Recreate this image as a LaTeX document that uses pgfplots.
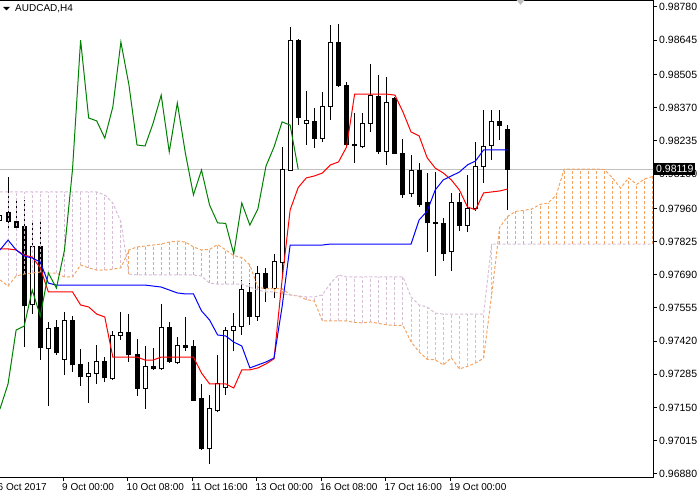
\documentclass[border=0pt]{standalone}
\usepackage{pgfplots}
\pgfplotsset{compat=1.18}
\usepackage{pgfplotstable}
\usepackage{fontspec}
\setmainfont{Liberation Sans}
\definecolor{spanA}{RGB}{244,164,96}
\definecolor{spanB}{RGB}{216,191,216}
\definecolor{pline}{RGB}{192,192,192}
\definecolor{chik}{RGB}{0,128,0}
\pgfplotsset{segs/.style={draw=none, mark=none}}
\begin{document}
\pgfplotstableread{
j O H L C
0 0.97909 0.97941 0.97901 0.97933
1 0.97945 0.98088 0.97880 0.97905
2 0.97905 0.97994 0.97876 0.97884
3 0.97888 0.97994 0.97396 0.97563
4 0.97567 0.97913 0.97530 0.97803
5 0.97803 0.97913 0.97343 0.97392
6 0.97388 0.97498 0.97156 0.97473
7 0.97477 0.97506 0.97364 0.97372
8 0.97347 0.97539 0.97282 0.97502
9 0.97502 0.97522 0.97294 0.97323
10 0.97323 0.97388 0.97237 0.97274
11 0.97274 0.97335 0.97168 0.97290
12 0.97290 0.97404 0.97246 0.97339
13 0.97339 0.97355 0.97254 0.97270
14 0.97266 0.97461 0.97262 0.97441
15 0.97441 0.97539 0.97425 0.97457
16 0.97457 0.97530 0.97335 0.97364
17 0.97364 0.97429 0.97197 0.97229
18 0.97229 0.97400 0.97144 0.97315
19 0.97315 0.97392 0.97303 0.97307
20 0.97307 0.97571 0.97303 0.97477
21 0.97477 0.97498 0.97331 0.97335
22 0.97331 0.97437 0.97327 0.97404
23 0.97404 0.97518 0.97380 0.97396
24 0.97400 0.97425 0.97176 0.97180
25 0.97185 0.97246 0.96977 0.96981
26 0.96981 0.97201 0.96920 0.97144
27 0.97136 0.97364 0.97130 0.97246
28 0.97233 0.97477 0.97201 0.97465
29 0.97465 0.97534 0.97380 0.97481
30 0.97481 0.97669 0.97445 0.97628
31 0.97616 0.97656 0.97486 0.97522
32 0.97522 0.97726 0.97502 0.97697
33 0.97697 0.97718 0.97579 0.97636
34 0.97636 0.97775 0.97595 0.97742
35 0.97738 0.98210 0.97689 0.98120
36 0.98116 0.98698 0.98112 0.98645
37 0.98645 0.98650 0.98299 0.98328
38 0.98307 0.98438 0.98218 0.98316
39 0.98312 0.98368 0.98206 0.98246
40 0.98246 0.98434 0.98230 0.98373
41 0.98373 0.98706 0.98320 0.98637
42 0.98637 0.98710 0.98455 0.98462
43 0.98462 0.98474 0.98210 0.98218
44 0.98218 0.98348 0.98145 0.98214
45 0.98210 0.98348 0.98206 0.98307
46 0.98307 0.98548 0.98271 0.98421
47 0.98417 0.98503 0.98181 0.98190
48 0.98190 0.98495 0.98137 0.98389
49 0.98409 0.98413 0.98181 0.98185
50 0.98185 0.98242 0.98002 0.98015
51 0.98019 0.98177 0.98006 0.98116
52 0.98116 0.98145 0.97966 0.97974
53 0.97982 0.98104 0.97783 0.97901
54 0.97903 0.98108 0.97685 0.97899
55 0.97899 0.97921 0.97746 0.97775
56 0.97783 0.98023 0.97705 0.97982
57 0.97986 0.98023 0.97868 0.97892
58 0.97892 0.98096 0.97864 0.97958
59 0.97958 0.98230 0.97949 0.98132
60 0.98129 0.98360 0.98063 0.98210
61 0.98214 0.98360 0.98157 0.98312
62 0.98312 0.98360 0.98238 0.98299
63 0.98283 0.98299 0.97954 0.98119
}\candles
\pgfplotstableread{
j T K
0 0.97795 0.97791
1 0.97795 0.97831
2 0.97791 0.97791
3 0.97770 0.97766
4 0.97762 0.97758
5 0.97718 0.97742
6 0.97620 0.97656
7 0.97620 0.97648
8 0.97620 0.97648
9 0.97620 0.97648
10 0.97567 0.97648
11 0.97559 0.97648
12 0.97530 0.97648
13 0.97518 0.97648
14 0.97355 0.97648
15 0.97355 0.97648
16 0.97355 0.97648
17 0.97355 0.97648
18 0.97343 0.97648
19 0.97343 0.97644
20 0.97355 0.97640
21 0.97355 0.97628
22 0.97355 0.97616
23 0.97355 0.97612
24 0.97355 0.97612
25 0.97290 0.97543
26 0.97246 0.97506
27 0.97246 0.97445
28 0.97246 0.97441
29 0.97229 0.97416
30 0.97303 0.97400
31 0.97303 0.97311
32 0.97311 0.97323
33 0.97327 0.97335
34 0.97348 0.97351
35 0.97670 0.97560
36 0.97954 0.97811
37 0.98045 0.97811
38 0.98084 0.97811
39 0.98092 0.97811
40 0.98104 0.97811
41 0.98137 0.97815
42 0.98149 0.97815
43 0.98210 0.97815
44 0.98425 0.97815
45 0.98425 0.97815
46 0.98425 0.97815
47 0.98425 0.97815
48 0.98425 0.97815
49 0.98421 0.97815
50 0.98352 0.97815
51 0.98271 0.97815
52 0.98255 0.97913
53 0.98166 0.97949
54 0.98124 0.98035
55 0.98104 0.98076
56 0.98076 0.98092
57 0.98035 0.98108
58 0.97966 0.98137
59 0.97954 0.98153
60 0.98023 0.98198
61 0.98027 0.98198
62 0.98031 0.98198
63 0.98039 0.98198
}\tenkij
\pgfplotstableread{
j CH
0 0.97144
1 0.97246
2 0.97465
3 0.97481
4 0.97628
5 0.97522
6 0.97697
7 0.97636
8 0.97790
9 0.98120
10 0.98645
11 0.98328
12 0.98316
13 0.98246
14 0.98373
15 0.98637
16 0.98462
17 0.98218
18 0.98214
19 0.98307
20 0.98421
21 0.98190
22 0.98389
23 0.98185
24 0.98015
25 0.98116
26 0.97974
27 0.97901
28 0.97899
29 0.97775
30 0.97982
31 0.97892
32 0.97958
33 0.98132
34 0.98210
35 0.98312
36 0.98299
37 0.98119
}\chikou
\pgfplotstableread{
j A B
0 0.97669 0.98027
1 0.97644 0.98027
2 0.97685 0.98027
3 0.97693 0.98027
4 0.97697 0.98027
5 0.97701 0.98027
6 0.97697 0.98027
7 0.97697 0.98027
8 0.97681 0.98027
9 0.97681 0.98027
10 0.97730 0.98027
11 0.97718 0.98027
12 0.97709 0.98027
13 0.97709 0.98015
14 0.97713 0.97982
15 0.97718 0.97905
16 0.97791 0.97693
17 0.97803 0.97689
18 0.97807 0.97689
19 0.97811 0.97689
20 0.97815 0.97689
21 0.97823 0.97689
22 0.97827 0.97689
23 0.97823 0.97689
24 0.97803 0.97689
25 0.97791 0.97685
26 0.97793 0.97656
27 0.97813 0.97652
28 0.97791 0.97652
29 0.97768 0.97652
30 0.97760 0.97652
31 0.97730 0.97640
32 0.97638 0.97628
33 0.97634 0.97620
34 0.97634 0.97620
35 0.97634 0.97612
36 0.97608 0.97608
37 0.97604 0.97604
38 0.97589 0.97600
39 0.97583 0.97600
40 0.97502 0.97608
41 0.97502 0.97656
42 0.97502 0.97689
43 0.97502 0.97681
44 0.97496 0.97681
45 0.97494 0.97681
46 0.97498 0.97681
47 0.97492 0.97681
48 0.97486 0.97681
49 0.97484 0.97681
50 0.97484 0.97681
51 0.97417 0.97600
52 0.97376 0.97567
53 0.97346 0.97559
54 0.97344 0.97534
55 0.97323 0.97530
56 0.97352 0.97530
57 0.97307 0.97530
58 0.97317 0.97530
59 0.97331 0.97530
60 0.97350 0.97530
61 0.97609 0.97815
62 0.97883 0.97815
63 0.97928 0.97815
64 0.97948 0.97815
65 0.97952 0.97815
66 0.97958 0.97815
67 0.97976 0.97815
68 0.97982 0.97815
69 0.98013 0.97815
70 0.98120 0.97815
71 0.98120 0.97815
72 0.98120 0.97815
73 0.98120 0.97815
74 0.98120 0.97815
75 0.98118 0.97815
76 0.98084 0.97815
77 0.98043 0.97815
78 0.98084 0.97815
79 0.98058 0.97815
80 0.98080 0.97815
81 0.98090 0.97815
82 0.98091 0.97815
}\cloud
\begin{tikzpicture}
\useasboundingbox (0,0) rectangle (700pt,496pt);
\begin{axis}[
  at={(-1pt,495.5pt)}, anchor=north west,
  scale only axis, width=654pt, height=476.5pt,
  xmin=-0.124, xmax=81.02, ymin=0.96867, ymax=0.98806,
  axis line style={black, line width=1pt},
  tick align=outside, major tick length=4pt,
  tick style={black, line width=1pt},
  xtick pos=lower, ytick pos=upper, yticklabel pos=upper,
  xtick={-0.12,7.88,15.88,23.88,31.88,39.88,47.88,55.88},
  xticklabels={6 Oct 2017,9 Oct 00:00,10 Oct 08:00,11 Oct 16:00,13 Oct 00:00,16 Oct 08:00,17 Oct 16:00,19 Oct 00:00},
  ytick={0.96880,0.97015,0.97150,0.97285,0.97420,0.97555,0.97690,0.97825,0.97960,0.98100,0.98235,0.98370,0.98505,0.98645,0.98780},
  yticklabels={0.96880,0.97015,0.97150,0.97285,0.97420,0.97555,0.97690,0.97825,0.97960,0.98100,0.98235,0.98370,0.98505,0.98645,0.98780},
  xticklabel style={anchor=north west, inner sep=0pt, font=\fontsize{10}{12}\selectfont, xshift=-1.5pt, yshift=-2pt},
  yticklabel style={anchor=west, inner sep=0pt, font=\fontsize{10.5}{12}\selectfont, xshift=2pt},
]
% price line
\addplot[pline, line width=1pt] coordinates {(-1,0.98119) (82,0.98119)};
% wicks
\addplot[segs, error bars/.cd, y dir=plus, y explicit, error mark=none,
  error bar style={draw=black, line width=1pt, solid}]
  table[x=j, y=L, y error expr=\thisrow{H}-\thisrow{L}] {\candles};
% body outline / black body
\addplot[segs, error bars/.cd, y dir=plus, y explicit, error mark=none,
  error bar style={draw=black, line width=5pt, solid}]
  table[x=j, y expr={min(\thisrow{O},\thisrow{C})-0.0000203}, y error expr={abs(\thisrow{C}-\thisrow{O})+0.0000406}] {\candles};
% hollow interior
\addplot[segs, error bars/.cd, y dir=plus, y explicit, error mark=none,
  error bar style={draw=white, line width=3pt, solid}]
  table[x=j, y expr={\thisrow{O}+0.0000203}, y error expr={max(\thisrow{C}-\thisrow{O}-0.0000406,0)}] {\candles};
% cloud hatch
\addplot[segs, error bars/.cd, y dir=plus, y explicit, error mark=none,
  error bar style={draw=spanA, line width=1pt, dash pattern=on 3pt off 2pt}]
  table[x=j, y=B, y error expr={max(\thisrow{A}-\thisrow{B},0)}] {\cloud};
\addplot[segs, error bars/.cd, y dir=plus, y explicit, error mark=none,
  error bar style={draw=spanB, line width=1pt, dash pattern=on 3pt off 2pt}]
  table[x=j, y=A, y error expr={max(\thisrow{B}-\thisrow{A},0)}] {\cloud};
% span lines
\addplot[spanA, line width=1pt, dash pattern=on 3pt off 2pt] table[x=j, y=A] {\cloud};
\addplot[spanB, line width=1pt, dash pattern=on 3pt off 2pt] table[x=j, y=B] {\cloud};
% tenkan, kijun, chikou
\addplot[red, line width=1pt] table[x=j, y=T] {\tenkij};
\addplot[blue, line width=1pt] table[x=j, y=K] {\tenkij};
\addplot[chik, line width=1pt] table[x=j, y=CH] {\chikou};
\coordinate (pl) at (axis cs:81.02,0.98119);
\end{axis}
\node[anchor=west, fill=black, text=white, inner xsep=2pt, inner ysep=1pt, minimum height=12pt, font=\fontsize{10.5}{12}\selectfont] at ([xshift=1pt]pl) {0.98119};
\fill[black] (3pt,489pt) -- (10pt,489pt) -- (6.5pt,485.5pt) -- cycle;
\node[anchor=base west, inner sep=0pt, font=\fontsize{10}{12}\selectfont] at (15pt,484pt) {AUDCAD,H4};
\fill[black!25] (516.5pt,496pt) -- (524.5pt,496pt) -- (520.5pt,491pt) -- cycle;
\end{tikzpicture}
\end{document}
